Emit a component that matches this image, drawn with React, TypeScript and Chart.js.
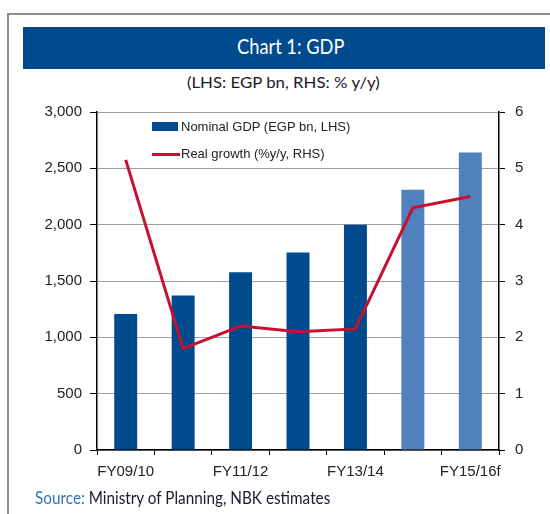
import React, { useEffect, useRef } from "react";
import { Chart, registerables } from "chart.js";

Chart.register(...registerables);

const categories = ["FY09/10", "FY10/11", "FY11/12", "FY12/13", "FY13/14", "FY14/15", "FY15/16f"];
const nominalGdp = [1206, 1371, 1577, 1753, 2000, 2310, 2640];
const realGrowth = [5.15, 1.8, 2.2, 2.1, 2.15, 4.3, 4.5];
const barColors = ["#004B8D", "#004B8D", "#004B8D", "#004B8D", "#004B8D", "#4F81BD", "#4F81BD"];
const titleText = "Chart 1: GDP";
const subtitleText = "(LHS: EGP bn, RHS: % y/y)";
const legendBar = "Nominal GDP (EGP bn, LHS)";
const legendLine = "Real growth (%y/y, RHS)";

const TICK_FONT = { family: "'Liberation Sans', Arial, sans-serif", size: 15 };
const TEXT_FONT = "Lato, 'Open Sans', sans-serif";

export default function App() {
  const ref = useRef<HTMLCanvasElement | null>(null);

  useEffect(() => {
    if (!ref.current) return;
    const chart = new Chart(ref.current, {
      type: "bar",
      data: {
        labels: categories,
        datasets: [
          {
            type: "line",
            label: legendLine,
            data: realGrowth,
            yAxisID: "y1",
            borderColor: "#C8102E",
            backgroundColor: "#C8102E",
            borderWidth: 3,
            pointRadius: 0,
            tension: 0,
            order: 0,
          } as any,
          {
            type: "bar",
            label: legendBar,
            data: nominalGdp,
            yAxisID: "y",
            backgroundColor: barColors,
            barPercentage: 0.8,
            categoryPercentage: 0.5,
            order: 1,
          },
        ],
      },
      options: {
        responsive: false,
        animation: false,
        devicePixelRatio: 1,
        layout: { padding: { top: 5, left: 0, right: 0, bottom: 0 } },
        plugins: { legend: { display: false }, tooltip: { enabled: false }, title: { display: false } },
        scales: {
          x: {
            offset: true,
            grid: {
              offset: true,
              drawOnChartArea: false,
              drawTicks: true,
              tickLength: 5,
              tickColor: "#000",
              color: "#000",
            },
            border: { display: true, color: "#000", width: 1.5 },
            ticks: {
              autoSkip: false,
              maxRotation: 0,
              padding: 8,
              color: "#222",
              font: TICK_FONT,
              callback: (_v: any, i: number) => (i % 2 === 0 ? categories[i] : ""),
            },
            afterFit: (s: any) => {
              s.height = 40;
            },
          },
          y: {
            position: "left",
            min: 0,
            max: 3000,
            grid: { color: "#A0A0A0", lineWidth: 1, tickColor: "#000", tickLength: 7 },
            border: { display: true, color: "#000", width: 1.5 },
            ticks: {
              stepSize: 500,
              padding: 8,
              color: "#222",
              font: TICK_FONT,
              callback: (v: any) => Number(v).toLocaleString("en-US"),
            },
            afterFit: (s: any) => {
              s.width = 97;
            },
          },
          y1: {
            position: "right",
            min: 0,
            max: 6,
            grid: { drawOnChartArea: false, tickColor: "#000", tickLength: 6 },
            border: { display: true, color: "#000", width: 1.5 },
            ticks: { stepSize: 1, padding: 10, color: "#222", font: TICK_FONT },
            afterFit: (s: any) => {
              s.width = 51;
            },
          },
        },
      },
    });
    return () => chart.destroy();
  }, []);

  const squeezed = (left: number, top: number, size: number, scale: number, color: string, content: React.ReactNode) => (
    <div
      style={{
        position: "absolute",
        left,
        top,
        fontFamily: TEXT_FONT,
        fontSize: size,
        lineHeight: "1.2",
        color,
        whiteSpace: "nowrap",
        transform: `scaleX(${scale})`,
        transformOrigin: "0 0",
      }}
    >
      {content}
    </div>
  );

  return (
    <div style={{ position: "absolute", left: 0, top: 0, width: 550, height: 514, overflow: "hidden", background: "#fff" }}>
      <div
        style={{
          position: "absolute",
          left: 7,
          top: 13,
          width: 600,
          height: 600,
          border: "2px solid #8C8C8C",
          boxSizing: "border-box",
        }}
      />
      <div style={{ position: "absolute", left: 23, top: 27, width: 522, height: 42, background: "#004B8D" }} />
      {squeezed(237, 33, 21, 0.87, "#fff", titleText)}
      {squeezed(187, 72, 16, 1.05, "#1a1a2e", subtitleText)}
      <canvas ref={ref} width={550} height={397} style={{ position: "absolute", left: 0, top: 93, width: 550, height: 397 }} />
      <div style={{ position: "absolute", left: 152, top: 122, width: 26, height: 9, background: "#004B8D" }} />
      <div
        style={{
          position: "absolute",
          left: 181,
          top: 118,
          fontFamily: TICK_FONT.family,
          fontSize: 13,
          lineHeight: "18px",
          color: "#222",
          whiteSpace: "nowrap",
        }}
      >
        {legendBar}
      </div>
      <div style={{ position: "absolute", left: 152, top: 153, width: 28, height: 3, background: "#C8102E" }} />
      <div
        style={{
          position: "absolute",
          left: 181,
          top: 145,
          fontFamily: TICK_FONT.family,
          fontSize: 13,
          lineHeight: "18px",
          color: "#222",
          whiteSpace: "nowrap",
        }}
      >
        {legendLine}
      </div>
      {squeezed(
        35,
        488,
        17,
        0.9,
        "#1a1a2e",
        <>
          <span style={{ color: "#2E75B6" }}>Source:</span> Ministry of Planning, NBK estimates
        </>
      )}
    </div>
  );
}
